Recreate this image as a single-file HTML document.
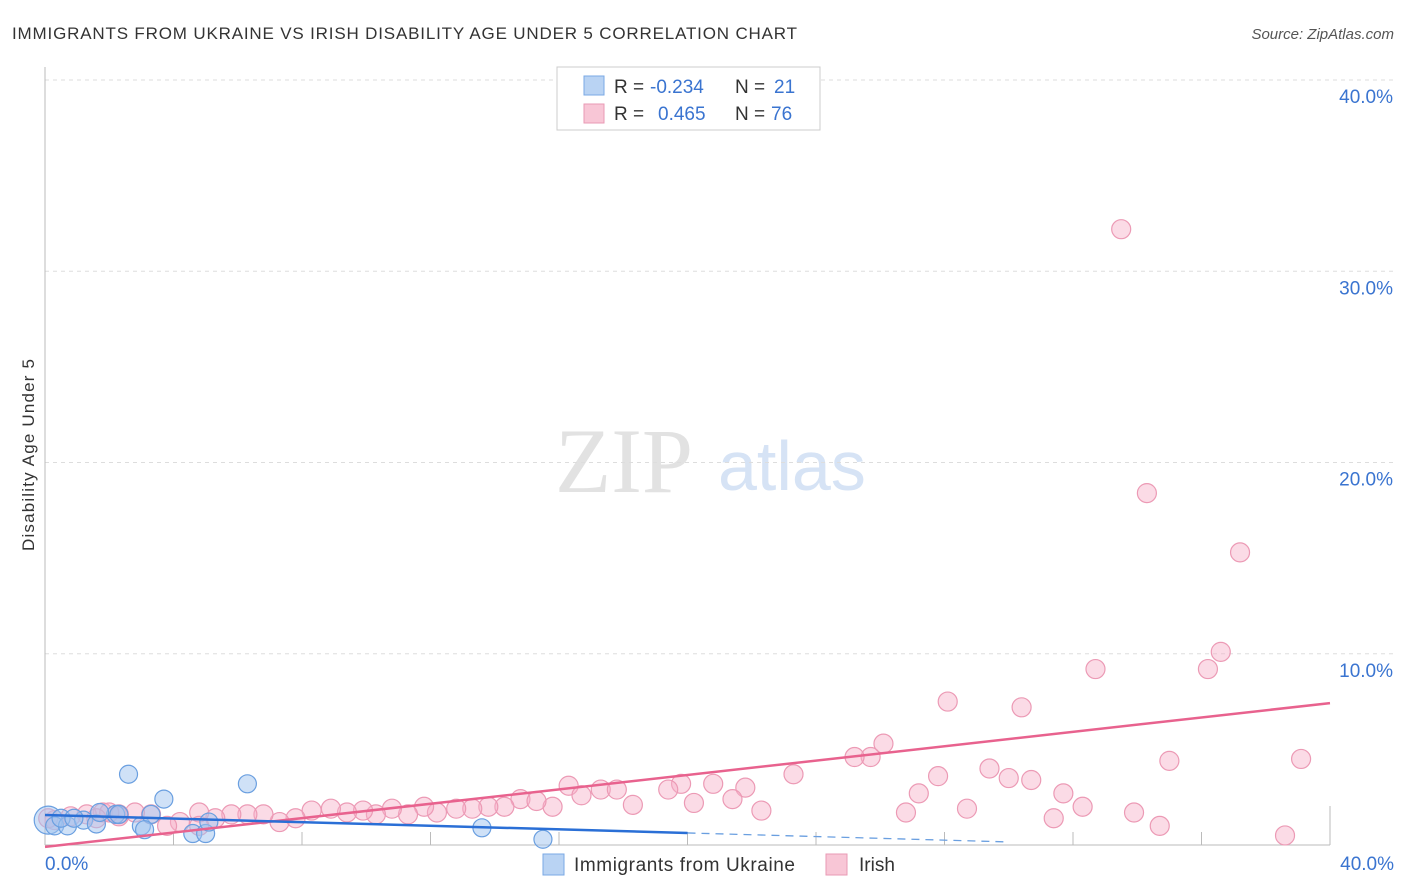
<!DOCTYPE html>
<html><head><meta charset="utf-8"><style>
body{margin:0;background:#fff;font-family:"Liberation Sans",sans-serif;}
#wrap{position:relative;width:1406px;height:892px;overflow:hidden;}
</style></head><body>
<div id="wrap">
<svg id="svg" width="1406" height="892" xmlns="http://www.w3.org/2000/svg">
<text x="12" y="39" font-size="17" fill="#333" textLength="785">IMMIGRANTS FROM UKRAINE VS IRISH DISABILITY AGE UNDER 5 CORRELATION CHART</text>
<text x="1394" y="39" font-size="15" fill="#555" font-style="italic" text-anchor="end">Source: ZipAtlas.com</text>
<text x="555" y="492" font-size="92" fill="#e2e2e2" font-family="Liberation Serif, serif">ZIP</text>
<text x="718" y="490" font-size="70" fill="#d6e3f5">atlas</text>
<text transform="translate(34,455) rotate(-90)" font-size="17" fill="#333" text-anchor="middle" textLength="192">Disability Age Under 5</text>
<g id="grid"></g><g id="marks"></g>
<rect x="557" y="67" width="263" height="63" fill="#fff" stroke="#ccc"/>
<rect x="584" y="76" width="20" height="19" fill="#b9d3f3" stroke="#7aa8e4"/>
<rect x="584" y="104" width="20" height="19" fill="#f8c6d6" stroke="#e99ab4"/>
<g font-size="19" fill="#333">
<text x="614" y="93">R =</text><text x="650" y="93" fill="#3a74d0">-0.234</text><text x="735" y="93">N =</text><text x="774" y="93" fill="#3a74d0">21</text>
<text x="614" y="120">R =</text><text x="658" y="120" fill="#3a74d0">0.465</text><text x="735" y="120">N =</text><text x="771" y="120" fill="#3a74d0">76</text>
</g>
<rect x="543" y="854" width="21" height="21" fill="#b9d3f3" stroke="#7aa8e4"/>
<text x="574" y="871" font-size="19" fill="#333" textLength="221">Immigrants from Ukraine</text>
<rect x="826" y="854" width="21" height="21" fill="#f8c6d6" stroke="#e99ab4"/>
<text x="859" y="871" font-size="19" fill="#333">Irish</text>
</svg></div>
<script>
const yTicks=[10,20,30,40];
const yTickLabels=["10.0%","20.0%","30.0%","40.0%"];
const xTickLabels=["0.0%","40.0%"];
const irishX=[33.5,34.3,37.2,36.6,36.2,32.7,28.1,30.4,39.1,35.0,26.1,25.7,25.2,23.3,19.8,20.8,16.3,17.3,17.8,19.4,21.8,27.8,29.4,30.0,30.7,31.7,32.3,27.2,28.7,33.9,31.4,34.7,38.6,26.8,22.3,21.4,20.2,18.3,15.8,16.7,14.8,15.3,14.3,13.8,13.3,12.8,12.2,11.8,11.3,10.8,10.3,9.9,9.4,8.9,8.3,7.8,7.3,6.8,6.3,5.8,5.3,4.8,4.2,3.8,3.3,2.8,2.3,1.8,1.3,0.8,0.3,0.1,4.8,2.3,2.0,1.6];
const irishY=[32.2,18.4,15.3,10.1,9.2,9.2,7.5,7.2,4.5,4.4,5.3,4.6,4.6,3.7,3.2,3.2,3.1,2.9,2.9,2.9,3.0,3.6,4.0,3.5,3.4,2.7,2.0,2.7,1.9,1.7,1.4,1.0,0.5,1.7,1.8,2.4,2.2,2.1,2.0,2.6,2.4,2.3,2.0,2.0,1.9,1.9,1.7,2.0,1.6,1.9,1.6,1.8,1.7,1.9,1.8,1.4,1.2,1.6,1.6,1.6,1.4,1.7,1.2,1.0,1.6,1.7,1.6,1.7,1.6,1.5,1.3,1.4,1.0,1.5,1.7,1.4];
const ukrX=[0.1,0.3,0.7,1.2,1.6,2.2,2.6,3.0,3.3,3.7,4.6,5.0,5.1,6.3,13.6,15.5,0.5,1.7,3.1,2.3,0.9];
const ukrY=[1.3,1.0,1.0,1.3,1.1,1.6,3.7,1.0,1.6,2.4,0.6,0.6,1.2,3.2,0.9,0.3,1.4,1.7,0.8,1.6,1.4];
const trendIrish=[-0.1,7.42];   // y at x=0 and x=40
const trendUkr=[1.57,-0.047];  // intercept, slope
const X=v=>45+v*32.125, Y=v=>845-v*19.125;
const NS="http://www.w3.org/2000/svg";
function mk(t,a,p){const e=document.createElementNS(NS,t);for(const k in a)e.setAttribute(k,a[k]);p.appendChild(e);return e;}
const g=document.getElementById('grid'),m=document.getElementById('marks');
yTicks.forEach((t,i)=>{
 const l=mk('line',{x1:45,x2:1395,y1:Y(t),y2:Y(t),stroke:'#ddd','stroke-dasharray':'4,4'},g);
 
 
 const tx=mk('text',{x:1393,y:Y(t)+23,'font-size':19,fill:'#3a74d0','text-anchor':'end'},g);
 tx.textContent=yTickLabels[i];
 
 
});
const ax=mk('line',{x1:45,x2:45,y1:67,y2:845,stroke:'#bbb'},g);


const bx=mk('line',{x1:45,x2:1330,y1:845,y2:845,stroke:'#bbb'},g);


for(let i=1;i<=10;i++){const tk=mk('line',{x1:X(i*4),x2:X(i*4),y1:i==10?806:832,y2:845,stroke:'#bbb'},g);
 
 }
[[0,'start',45],[40,'end',1394]].forEach((d,i)=>{const t=mk('text',{x:d[2],y:870,'font-size':19,fill:'#3a74d0','text-anchor':d[1]},g);t.textContent=xTickLabels[i];
 
 });
irishX.forEach((x,i)=>{const c=mk('circle',{cx:X(x),cy:Y(irishY[i]),r:9.5,fill:'rgba(246,176,199,0.45)',stroke:'#ec9ab5','stroke-width':1.2},m);
 
 });
ukrX.forEach((x,i)=>{const c=mk('circle',{cx:X(x),cy:Y(ukrY[i]),r:i==0?14:9,fill:'rgba(160,196,240,0.5)',stroke:'#6a9fe0','stroke-width':1.2},m);
 
 });
const pl=mk('line',{x1:X(0),y1:Y(trendIrish[0]),x2:X(40),y2:Y(trendIrish[1]),stroke:'#e8628e','stroke-width':2.5},m);


const ul=mk('line',{x1:X(0),y1:Y(trendUkr[0]),x2:X(20),y2:Y(trendUkr[0]+trendUkr[1]*20),stroke:'#2a6fd6','stroke-width':2.5},m);


const xe=30;
const ud=mk('line',{x1:X(20),y1:Y(trendUkr[0]+trendUkr[1]*20),x2:X(xe),y2:Y(trendUkr[0]+trendUkr[1]*xe),stroke:'#6a9fe0','stroke-width':1.3,'stroke-dasharray':'8,6'},m);


</script>
</body></html>
